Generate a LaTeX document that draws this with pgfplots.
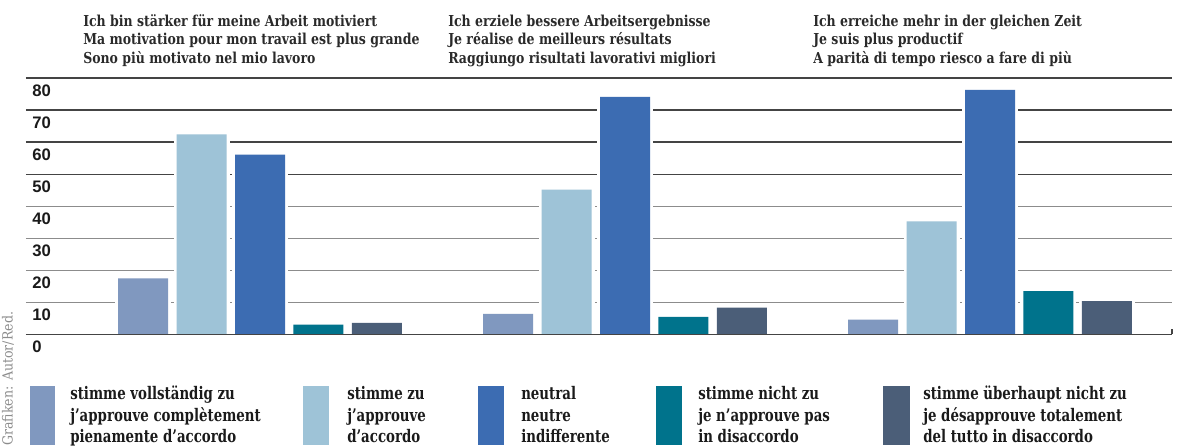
\documentclass[border=0pt]{standalone}
\usepackage{pgfplots}
\pgfplotsset{compat=1.18}
\usepackage{pgfplotstable}
\usepackage{fontspec}
\setmainfont{DejaVu Serif}
\newfontfamily\titlefont[FakeStretch=0.83]{DejaVu Serif}
\newfontfamily\srcfont[FakeStretch=0.9]{DejaVu Serif}
\newfontfamily\legfont[FakeStretch=0.77]{DejaVu Serif}
\newfontfamily\tickfont{Liberation Sans}

\definecolor{c1}{HTML}{8098BF}
\definecolor{c2}{HTML}{9EC3D7}
\definecolor{c3}{HTML}{3C6CB2}
\definecolor{c4}{HTML}{00738C}
\definecolor{c5}{HTML}{4B5E78}
\definecolor{gridD}{HTML}{444444}
\definecolor{gridL}{HTML}{8C8C8C}
\definecolor{txt}{HTML}{1A1A1A}
\definecolor{ttxt}{HTML}{2A2A2A}

\pgfplotstableread{
g v1 v2 v3 v4 v5
0 17.5 62.4 56.1 3.1 3.6
1 6.4 45.2 74.1 5.5 8.4
2 4.6 35.3 76.3 13.5 10.4
}\data

\newcommand{\tf}{\titlefont\bfseries\fontsize{11.3}{13}\selectfont\color{ttxt}}
\newcommand{\lf}{\legfont\bfseries\fontsize{13}{15}\selectfont}

\begin{document}
\begin{tikzpicture}
\path[use as bounding box] (0,0) rectangle (888pt,-336pt);
\begin{axis}[
  at={(19.5pt,-250.875pt)}, anchor=south west,
  scale only axis, width=859.5pt, height=192.375pt,
  xmin=-0.6411, xmax=2.4986, ymin=0, ymax=80,
  clip=false,
  ybar, bar width=37.5pt,
  axis line style={draw=none},
  major tick length=0pt,
  xtick=\empty,
  ytick={0,10,20,30,40},
  extra y ticks={50,60,70,80},
  ymajorgrids,
  grid style={gridL, line width=1pt},
  extra y tick style={grid style={gridD, line width=1pt}},
  /pgf/number format/assume math mode=true,
  yticklabel style={font=\tickfont\bfseries\fontsize{12.5}{14}\selectfont, text=txt, anchor=west, xshift=1.2pt, yshift=-9.4pt},
]
% white halos (gaps in grid lines around bars)
\addplot[fill=white, draw=white, line width=4.5pt, bar shift=-87.6pt, forget plot] table[x=g, y=v1] {\data};
\addplot[fill=white, draw=white, line width=4.5pt, bar shift=-43.8pt, forget plot] table[x=g, y=v2] {\data};
\addplot[fill=white, draw=white, line width=4.5pt, bar shift=0pt, forget plot] table[x=g, y=v3] {\data};
\addplot[fill=white, draw=white, line width=4.5pt, bar shift=43.8pt, forget plot] table[x=g, y=v4] {\data};
\addplot[fill=white, draw=white, line width=4.5pt, bar shift=87.6pt, forget plot] table[x=g, y=v5] {\data};
% bars
\addplot[fill=c1, draw=none, bar shift=-87.6pt] table[x=g, y=v1] {\data};
\addplot[fill=c2, draw=none, bar shift=-43.8pt] table[x=g, y=v2] {\data};
\addplot[fill=c3, draw=none, bar shift=0pt] table[x=g, y=v3] {\data};
\addplot[fill=c4, draw=none, bar shift=43.8pt] table[x=g, y=v4] {\data};
\addplot[fill=c5, draw=none, bar shift=87.6pt] table[x=g, y=v5] {\data};
\draw[gridD, line width=1pt] (rel axis cs:0,0) -- (rel axis cs:1,0);
\draw[gridD, line width=1pt] (rel axis cs:1,0) -- ++(0pt,4pt);
\end{axis}

\begin{scope}[x=0.75pt, y=-0.75pt, every node/.style={inner sep=0pt, text=txt}]
% titles
\node[anchor=base west] at (83,26.7) {\tf Ich bin stärker für meine Arbeit motiviert};
\node[anchor=base west] at (83,45) {\tf Ma motivation pour mon travail est plus grande};
\node[anchor=base west] at (83,63.3) {\tf Sono più motivato nel mio lavoro};
\node[anchor=base west] at (448,26.7) {\tf Ich erziele bessere Arbeitsergebnisse};
\node[anchor=base west] at (448,45) {\tf Je réalise de meilleurs résultats};
\node[anchor=base west] at (448,63.3) {\tf Raggiungo risultati lavorativi migliori};
\node[anchor=base west] at (813,26.7) {\tf Ich erreiche mehr in der gleichen Zeit};
\node[anchor=base west] at (813,45) {\tf Je suis plus productif};
\node[anchor=base west] at (813,63.3) {\tf A parità di tempo riesco a fare di più};
% source
\node[anchor=base west, rotate=90, text=gridL] at (12.5,446) {\srcfont\fontsize{10.5}{12}\selectfont Grafiken: Autor/Red.};
% legend swatches
\fill[c1] (30,386) rectangle (55,445);
\fill[c2] (303,386) rectangle (329,445);
\fill[c3] (478,386) rectangle (504,445);
\fill[c4] (656,386) rectangle (682,445);
\fill[c5] (883,386) rectangle (910,445);
% legend texts
\node[anchor=base west] at (70,400) {\lf stimme vollständig zu};
\node[anchor=base west] at (70,421.3) {\lf j’approuve complètement};
\node[anchor=base west] at (70,442.6) {\lf pienamente d’accordo};
\node[anchor=base west] at (347,400) {\lf stimme zu};
\node[anchor=base west] at (347,421.3) {\lf j’approuve};
\node[anchor=base west] at (347,442.6) {\lf d’accordo};
\node[anchor=base west] at (521,400) {\lf neutral};
\node[anchor=base west] at (521,421.3) {\lf neutre};
\node[anchor=base west] at (521,442.6) {\lf indifferente};
\node[anchor=base west] at (698,400) {\lf stimme nicht zu};
\node[anchor=base west] at (698,421.3) {\lf je n’approuve pas};
\node[anchor=base west] at (698,442.6) {\lf in disaccordo};
\node[anchor=base west] at (923,400) {\lf stimme überhaupt nicht zu};
\node[anchor=base west] at (923,421.3) {\lf je désapprouve totalement};
\node[anchor=base west] at (923,442.6) {\lf del tutto in disaccordo};
\end{scope}
\end{tikzpicture}
\end{document}
